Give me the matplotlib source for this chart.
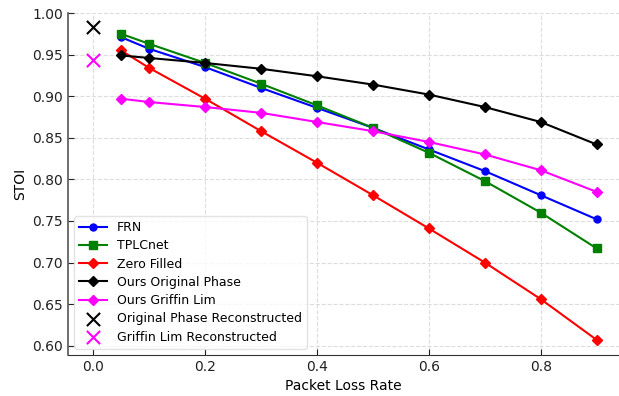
import numpy as np
import matplotlib.pyplot as plt

# packet loss rates
loss = [0.05, 0.1, 0.2, 0.3, 0.4, 0.5, 0.6, 0.7, 0.8, 0.9]

# STOI values per method
frn = [0.971, 0.957, 0.935, 0.910, 0.886, 0.862, 0.836, 0.810, 0.781, 0.752]
tplcnet = [0.975, 0.963, 0.940, 0.915, 0.889, 0.862, 0.832, 0.798, 0.760, 0.717]
zero_filled = [0.955, 0.934, 0.897, 0.858, 0.820, 0.781, 0.741, 0.700, 0.656, 0.607]
ours_orig = [0.949, 0.946, 0.940, 0.933, 0.924, 0.914, 0.902, 0.887, 0.869, 0.842]
ours_gl = [0.897, 0.893, 0.887, 0.880, 0.869, 0.858, 0.845, 0.830, 0.811, 0.785]

# reconstruction references at zero loss
orig_recon = 0.983
gl_recon = 0.944

fig = plt.figure(figsize=(6.19, 3.96), dpi=100)
ax = fig.add_axes([0.11, 0.104, 0.89, 0.863])

ax.plot(loss, frn, marker='o', color='blue', label='FRN', markersize=5, linewidth=1.5)
ax.plot(loss, tplcnet, marker='s', color='green', label='TPLCnet', markersize=6, linewidth=1.5)
ax.plot(loss, zero_filled, marker='D', color='red', label='Zero Filled', markersize=5, linewidth=1.5)
ax.plot(loss, ours_orig, marker='D', color='black', label='Ours Original Phase', markersize=5, linewidth=1.5)
ax.plot(loss, ours_gl, marker='D', color='magenta', label='Ours Griffin Lim', markersize=5, linewidth=1.5)
ax.scatter([0.0], [orig_recon], marker='x', color='black', s=90, linewidths=1.5,
           label='Original Phase Reconstructed', zorder=3)
ax.scatter([0.0], [gl_recon], marker='x', color='magenta', s=90, linewidths=1.5,
           label='Griffin Lim Reconstructed', zorder=3)

ax.set_xlim(-0.045, 0.94)
ax.set_ylim(0.589, 1.0)
ax.set_xticks([0.0, 0.2, 0.4, 0.6, 0.8])
ax.set_yticks(np.arange(0.60, 1.001, 0.05))
ax.set_yticklabels([f'{v:.2f}' for v in np.arange(0.60, 1.001, 0.05)])
ax.set_xlabel('Packet Loss Rate', fontsize=10)
ax.set_ylabel('STOI', fontsize=10)
ax.tick_params(direction='in', length=4, labelsize=10, colors='#222222')

ax.spines['top'].set_visible(False)
ax.spines['right'].set_visible(False)
ax.spines['left'].set_color('#555555')
ax.spines['left'].set_linewidth(1.2)
ax.spines['bottom'].set_color('#333333')
ax.grid(True, linestyle='--', color='#dddddd', linewidth=0.8)
ax.set_axisbelow(True)

ax.legend(loc='lower left', fontsize=9, framealpha=0.8, edgecolor='#dddddd',
          labelspacing=0.42, handlelength=2.2)

plt.savefig('out.png', dpi=100)
plt.close()
